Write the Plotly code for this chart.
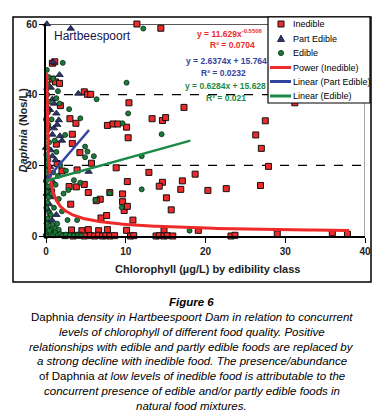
import numpy as np
import plotly.graph_objects as go

# ---------------- data ----------------
inedible_x = [11.4, 14.4, 0.8, 1.1, 0.8, 1.2, 1.7, 4.8, 5.2, 5.6, 10.4, 17.3, 31.2,
              1.8, 3.0, 3.75, 7.7, 8.4, 9.0, 10.1, 13.3, 14.6, 15.0, 27.5, 26.3, 27.0,
              10.3, 3.3, 1.3, 3.3, 4.25, 5.7, 3.9, 2.0, 8.8, 27.9, 18.7, 17.1, 16.9,
              20.3, 22.6, 26.9, 12.9, 14.6, 14.2, 15.1, 15.7, 10.2, 4.8, 2.9, 3.8, 5.3,
              8.0, 9.6, 9.6, 9.8, 6.8, 6.3, 3.1, 6.9, 7.6, 10.9, 10.2,
              3.2, 4.5, 5.3, 6.6, 7.7, 10.1, 14.8, 19.1, 29.0, 35.9, 37.8,
              2.4, 3.4, 4.1, 4.8, 5.6, 6.1, 6.6, 7.1, 7.5, 8.0, 8.6, 10.6, 11.0, 13.8,
              14.2, 14.8, 15.2, 15.9, 23.2, 23.7, 1.1, 0.7, 1.4]
inedible_y = [60.0, 58.8, 48.9, 49.3, 44.4, 43.6, 43.2, 40.8, 40.1, 40.1, 37.7, 36.4, 37.7,
              36.9, 33.2, 31.9, 31.3, 31.7, 31.7, 30.8, 33.2, 32.7, 33.5, 32.6, 28.6, 24.8,
              27.8, 28.8, 26.0, 26.2, 23.6, 20.6, 18.7, 18.4, 19.3, 19.7, 17.5, 15.6, 13.2,
              12.9, 13.4, 14.3, 18.0, 15.2, 14.1, 10.8, 7.4, 15.4, 14.6, 14.0, 13.9, 12.3,
              12.3, 11.9, 9.7, 7.2, 10.4, 10.0, 9.0, 5.1, 5.8, 4.5, 8.4,
              1.7, 1.5, 1.8, 1.5, 1.8, 1.6, 1.5, 1.6, 0.6, 0.9, 0.5,
              0.1, 0.0, 0.2, 0.0, 0.1, 0.0, 0.2, 0.0, 0.1, 0.0, 0.1, 0.0, 0.1, 0.0,
              0.1, 0.0, 0.1, 0.0, 0.0, 0.2, 0.4, 12.5, 20.5]

part_edible_x = [0.1, 3.1, 0.9, 1.7, 0.8, 4.05, 0.5, 1.3, 1.6, 0.3, 1.0, 1.75, 0.8, 2.0,
                 0.6, 0.0, 0.8, 0.5, 5.35, 1.2, 0.3, 0.1, 0.6, 0.4, 0.25, 0.75, 0.2, 1.3,
                 0.5, 0.1, 1.0, 0.2, 0.6, 1.4, 0.2, 0.9]
part_edible_y = [60.0, 58.7, 49.2, 45.6, 38.7, 40.3, 35.7, 34.7, 32.8, 31.0, 30.5, 28.3, 28.7,
                 27.0, 24.3, 25.0, 22.6, 19.6, 18.2, 21.5, 13.5, 12.0, 11.0, 9.0, 7.4, 4.5,
                 4.0, 6.0, 2.0, 0.8, 37.5, 36.0, 42.0, 31.5, 16.5, 15.2]

edible_x = [12.2, 2.1, 10.1, 6.35, 10.3, 2.9, 4.3, 9.6, 14.5, 2.4, 4.9, 6.0, 4.9, 12.0,
            12.0, 18.0, 3.5, 4.3, 2.8, 8.0, 6.2, 9.5, 3.9, 2.7, 5.2, 1.5, 2.2, 1.8, 1.3,
            2.5, 1.6, 2.0,
            0.1, 0.3, 0.2, 0.05, 0.15, 0.35, 0.1, 0.25, 0.0, 0.3, 0.2, 0.1, 0.4, 0.15,
            0.05, 0.3, 0.2, 0.1, 0.35, 0.0, 0.25, 0.1, 0.3, 0.2, 0.05, 0.4, 0.15, 0.1,
            0.3, 0.2, 0.0,
            0.6, 0.9, 1.2, 1.5, 1.8, 2.1, 0.7, 1.1, 1.6, 2.5, 3.0, 3.5, 4.0, 4.4, 0.4,
            0.8, 1.4,
            0.7, 1.1, 0.9, 1.2, 0.7, 1.0, 0.6, 1.3, 1.7, 0.9, 1.5]
edible_y = [58.7, 49.0, 43.4, 38.7, 34.7, 35.9, 33.3, 31.9, 28.8, 28.6, 25.3, 22.6, 22.3, 22.6,
            13.2, 1.5, 15.8, 15.1, 13.0, 12.1, 10.2, 8.1, 4.5, 4.5, 23.9, 17.0, 12.0, 20.0,
            23.8, 18.5, 10.5, 7.0,
            47.0, 45.0, 43.0, 41.5, 40.0, 38.0, 36.5, 35.0, 33.0, 31.5, 30.0, 28.0, 26.5,
            25.0, 23.0, 21.5, 20.0, 18.5, 17.0, 15.5, 14.0, 12.5, 11.0, 9.5, 8.0, 6.5,
            5.0, 3.5, 2.0, 1.0, 0.0,
            0.5, 0.2, 1.0, 0.3, 0.6, 0.1, 2.0, 2.5, 1.8, 0.4, 0.2, 0.1, 0.2, 0.1, 1.5,
            3.2, 3.5,
            33.0, 27.0, 18.0, 14.5, 12.0, 8.0, 6.0, 39.0, 37.5, 44.5, 41.0]

# trendline coefficients as printed on the chart
power_inedible = {"a": 11.629, "b": -0.5506, "x_from": 0.082, "x_to": 38.0}
linear_part_edible = {"m": 2.6374, "c": 15.764, "x_from": 0.0, "x_to": 5.4}
linear_edible = {"m": 0.6284, "c": 15.628, "x_from": 0.0, "x_to": 18.1}

x_ticks = [0, 10, 20, 30, 40]
y_ticks = [0, 20, 40, 60]

# ---------------- layout helpers ----------------
W, H = 383, 417
L, R, T, B = 46, 18, 24, 181
PW = W - L - R
PH = H - T - B
BOTTOM = H - B


def px(x):
    return (x - L) / PW


def py(y):
    return (BOTTOM - y) / PH


FONT = "Liberation Sans, Arial, sans-serif"
RED = "#ee2a2a"
BLUE = "#3344a0"
GREEN = "#1b8a45"
NAVY = "#2b3766"
DGREEN = "#1c7a3c"

fig = go.Figure()

fig.add_trace(go.Scatter(
    x=inedible_x, y=inedible_y, mode="markers", name="Inedible", cliponaxis=False,
    marker=dict(symbol="square", size=6, color=RED, line=dict(color="#111", width=1))))
fig.add_trace(go.Scatter(
    x=part_edible_x, y=part_edible_y, mode="markers", name="Part Edible", cliponaxis=False,
    marker=dict(symbol="triangle-up", size=6.5, color=NAVY, line=dict(color="#111133", width=0.8))))
fig.add_trace(go.Scatter(
    x=edible_x, y=edible_y, mode="markers", name="Edible", cliponaxis=False,
    marker=dict(symbol="circle", size=5, color=DGREEN, line=dict(color="#0a2a10", width=0.8))))

# trendlines
pw_x = np.geomspace(power_inedible["x_from"], power_inedible["x_to"], 300)
pw_y = power_inedible["a"] * pw_x ** power_inedible["b"]
fig.add_trace(go.Scatter(x=pw_x, y=pw_y, mode="lines", name="Power (Inedible)",
                         line=dict(color=RED, width=3), cliponaxis=False))
lp_x = np.array([linear_part_edible["x_from"], linear_part_edible["x_to"]])
fig.add_trace(go.Scatter(x=lp_x, y=linear_part_edible["m"] * lp_x + linear_part_edible["c"],
                         mode="lines", name="Linear (Part Edible)",
                         line=dict(color=BLUE, width=2.5), cliponaxis=False))
le_x = np.array([linear_edible["x_from"], linear_edible["x_to"]])
fig.add_trace(go.Scatter(x=le_x, y=linear_edible["m"] * le_x + linear_edible["c"],
                         mode="lines", name="Linear (Edible)",
                         line=dict(color=GREEN, width=2.5), cliponaxis=False))

shapes = []
for yv in (20, 40):
    shapes.append(dict(type="line", xref="x", yref="y", x0=0, x1=40, y0=yv, y1=yv,
                       line=dict(color="black", width=1.2, dash="dash"), layer="below"))
shapes.append(dict(type="line", xref="x", yref="y", x0=0, x1=40, y0=60, y1=60,
                   line=dict(color="#222", width=1.3), layer="below"))
shapes.append(dict(type="line", xref="x", yref="y", x0=40, x1=40, y0=0, y1=60,
                   line=dict(color="#8a8a8a", width=1.5), layer="below"))
shapes.append(dict(type="rect", xref="paper", yref="paper",
                   x0=px(13), x1=px(371), y0=py(282), y1=py(17),
                   line=dict(color="black", width=1.5)))

# manual legend box
LG_X0, LG_X1, LG_Y0, LG_Y1 = 268, 370, 17, 103
shapes.append(dict(type="rect", xref="paper", yref="paper",
                   x0=px(LG_X0), x1=px(LG_X1), y0=py(LG_Y1), y1=py(LG_Y0),
                   fillcolor="white", line=dict(color="black", width=1.2), layer="above"))
legend_rows = [24, 38.5, 53, 67.5, 81.5, 96]
mx = 281
r = 3
shapes.append(dict(type="rect", xref="paper", yref="paper",
                   x0=px(mx - r), x1=px(mx + r), y0=py(legend_rows[0] + r), y1=py(legend_rows[0] - r),
                   fillcolor=RED, line=dict(color="#111", width=1), layer="above"))
yc = legend_rows[1]
shapes.append(dict(type="path", xref="paper", yref="paper",
                   path=f"M {px(mx-3.5)} {py(yc+3)} L {px(mx+3.5)} {py(yc+3)} L {px(mx)} {py(yc-3.5)} Z",
                   fillcolor=NAVY, line=dict(color="#111133", width=0.8), layer="above"))
yc = legend_rows[2]
shapes.append(dict(type="circle", xref="paper", yref="paper",
                   x0=px(mx - 2.6), x1=px(mx + 2.6), y0=py(yc + 2.6), y1=py(yc - 2.6),
                   fillcolor=DGREEN, line=dict(color="#0a2a10", width=0.8), layer="above"))
for yc, col in zip(legend_rows[3:], [RED, BLUE, GREEN]):
    shapes.append(dict(type="line", xref="paper", yref="paper",
                       x0=px(270), x1=px(291), y0=py(yc), y1=py(yc),
                       line=dict(color=col, width=3), layer="above"))

annotations = []
legend_labels = ["Inedible", "Part Edible", "Edible", "Power (Inedible)",
                 "Linear (Part Edible)", "Linear (Edible)"]
for yc, lab in zip(legend_rows, legend_labels):
    annotations.append(dict(x=px(291), y=py(yc), xref="paper", yref="paper", text=lab,
                            showarrow=False, xanchor="left", yanchor="middle",
                            font=dict(family=FONT, size=9, color="black")))

# equations
eqs = [
    ("y = 11.629x<sup>-0.5506</sup>", 265, 33, RED, "right"),
    ("R² = 0.0704", 233, 45, RED, "center"),
    ("y = 2.6374x + 15.764", 226.5, 61, BLUE, "center"),
    ("R² = 0.0232", 223, 73, BLUE, "center"),
    ("y = 0.6284x + 15.628", 225, 86, GREEN, "center"),
    ("R² = 0.021", 225.5, 98.5, GREEN, "center"),
]
for txt, cx, cy, col, anc in eqs:
    annotations.append(dict(x=px(cx), y=py(cy), xref="paper", yref="paper", text=txt,
                            showarrow=False, xanchor=anc, yanchor="middle",
                            font=dict(family=FONT, size=8.5, color=col, weight="bold")))

annotations.append(dict(x=px(52), y=py(36), xref="paper", yref="paper", text="Hartbeespoort",
                        showarrow=False, xanchor="left", yanchor="middle",
                        font=dict(family=FONT, size=12, color="#14144a")))

# axis titles
annotations.append(dict(x=px(207), y=py(269), xref="paper", yref="paper",
                        text="Chlorophyll (µg/L) by edibility class",
                        showarrow=False, xanchor="center", yanchor="middle",
                        font=dict(family=FONT, size=11, color="#222", weight="bold")))
annotations.append(dict(x=px(22.5), y=py(130), xref="paper", yref="paper",
                        text="<i>Daphnia</i> (Nos/L)", textangle=-90,
                        showarrow=False, xanchor="center", yanchor="middle",
                        font=dict(family=FONT, size=11, color="#222", weight="bold")))

# caption
annotations.append(dict(x=px(191.5), y=py(302), xref="paper", yref="paper",
                        text="<b><i>Figure 6</i></b>", showarrow=False,
                        xanchor="center", yanchor="middle",
                        font=dict(family=FONT, size=11.5, color="black")))
caption_lines = [
    "Daphnia <i>density in Hartbeespoort Dam in relation to concurrent</i>",
    "<i>levels of chlorophyll of different food quality. Positive</i>",
    "<i>relationships with edible and partly edible foods are replaced by</i>",
    "<i>a strong decline with inedible food. The presence/abundance</i>",
    "of Daphnia <i>at low levels of inedible food is attributable to the</i>",
    "<i>concurrent presence of edible and/or partly edible foods in</i>",
    "<i>natural food mixtures.</i>",
]
for i, line in enumerate(caption_lines):
    annotations.append(dict(x=px(191.5), y=py(317 + 14.8 * i), xref="paper", yref="paper",
                            text=line, showarrow=False, xanchor="center", yanchor="middle",
                            font=dict(family=FONT, size=11.5, color="black")))

axis_common = dict(showgrid=False, zeroline=False, showline=True, linecolor="black",
                   linewidth=1.5, ticks="outside", ticklen=5, tickwidth=1.2,
                   tickcolor="black",
                   tickfont=dict(family=FONT, size=10, color="#222", weight="bold"))

fig.update_layout(
    width=W, height=H, margin=dict(l=L, r=R, t=T, b=B, pad=0),
    paper_bgcolor="white", plot_bgcolor="white", showlegend=False,
    xaxis=dict(range=[0, 40], tickvals=x_ticks, **axis_common),
    yaxis=dict(range=[0, 60], tickvals=y_ticks, **axis_common),
    shapes=shapes, annotations=annotations,
)

fig.write_html("out.html", config={"displayModeBar": False},
               post_script="document.body.style.margin='0px';document.body.style.overflow='hidden';")
